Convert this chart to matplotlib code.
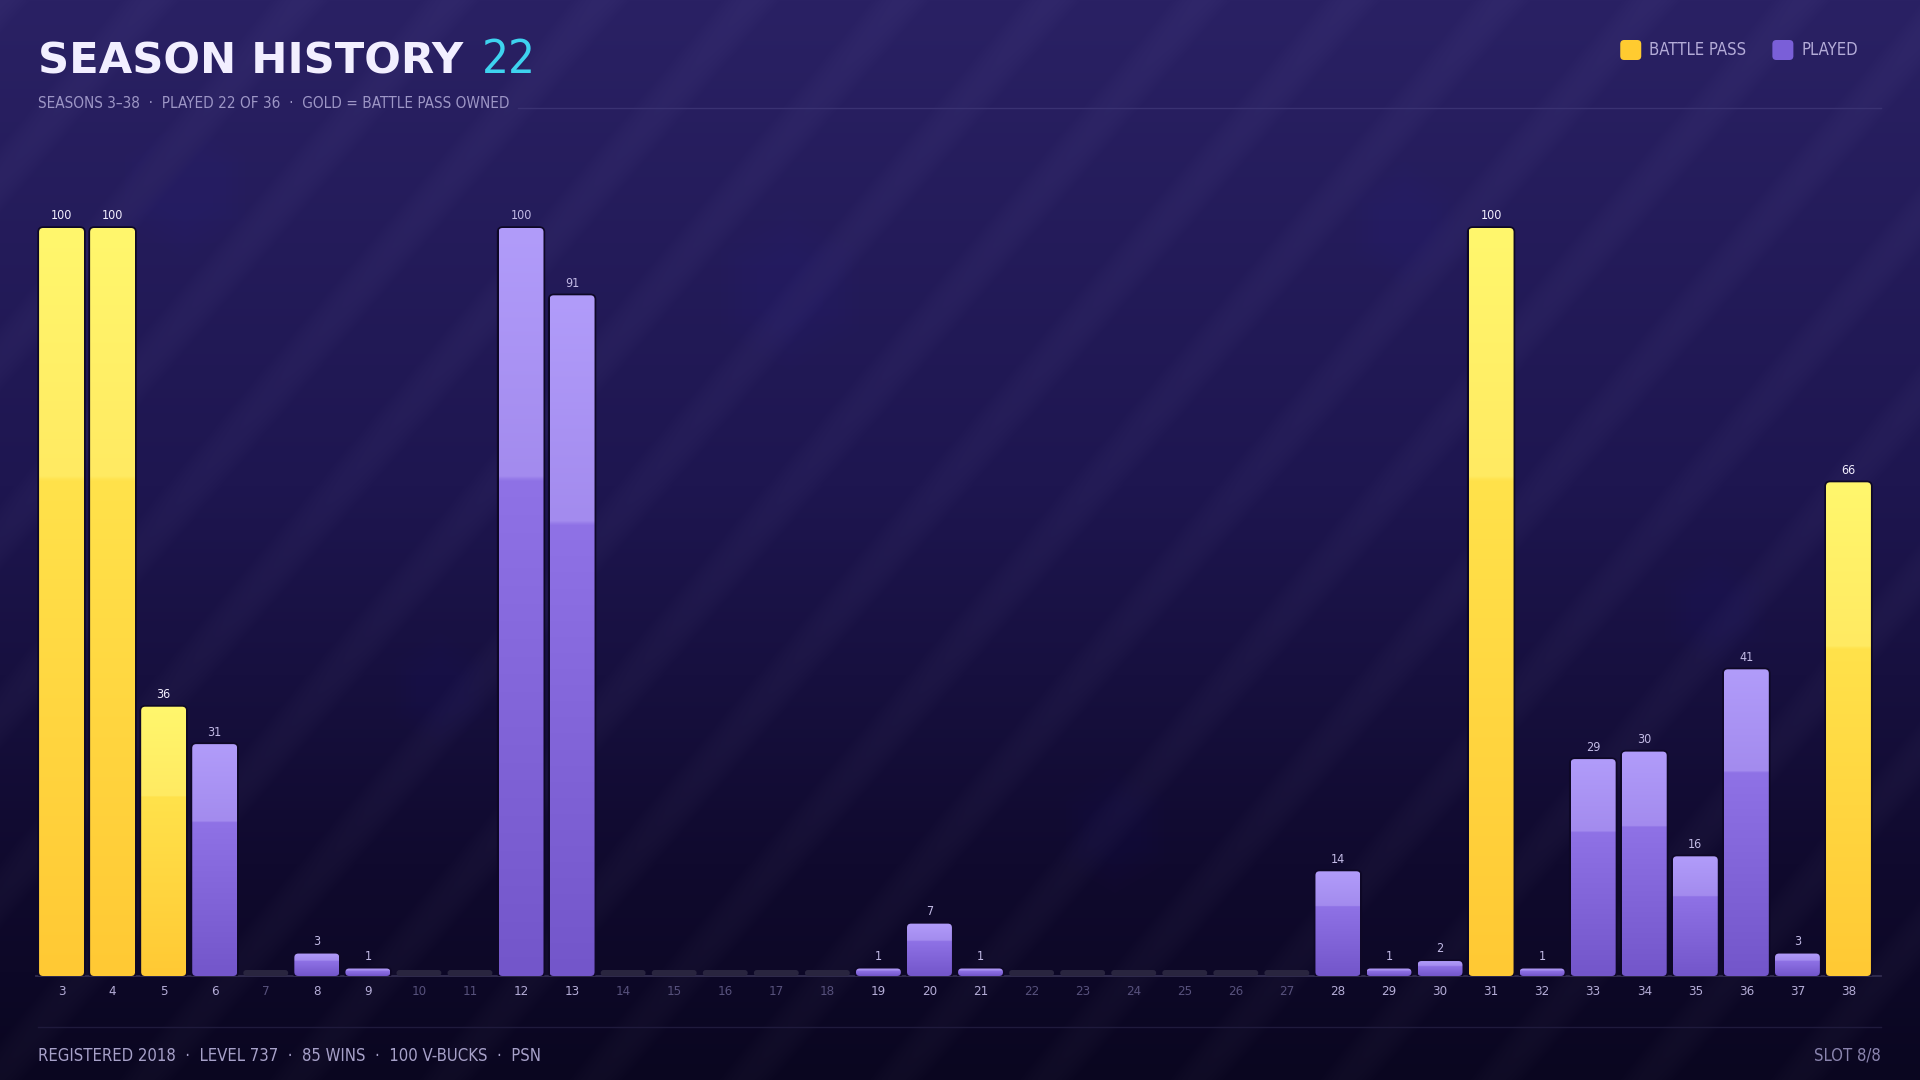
import numpy as np
import matplotlib
matplotlib.use('Agg')
import matplotlib.pyplot as plt
from matplotlib import font_manager as fm
from matplotlib.patches import FancyBboxPatch, RegularPolygon
from matplotlib.lines import Line2D
from matplotlib.colors import to_rgb

# season data
seasons = list(range(3, 39))
levels = [100, 100, 36, 31, 0, 3, 1, 0, 0, 100,
          91, 0, 0, 0, 0, 0, 1, 7, 1, 0,
          0, 0, 0, 0, 0, 14, 1, 2, 100, 1,
          29, 30, 16, 41, 3, 66]
battle_pass = [3, 4, 5, 31, 38]

title = 'SEASON HISTORY'
played_count = '22'
subtitle = 'SEASONS 3\u201338  \u00b7  PLAYED 22 OF 36  \u00b7  GOLD = BATTLE PASS OWNED'
footer_left = 'REGISTERED 2018  \u00b7  LEVEL 737  \u00b7  85 WINS  \u00b7  100 V-BUCKS  \u00b7  PSN'
footer_right = 'SLOT 8/8'
legend_labels = ['BATTLE PASS', 'PLAYED']

W, H = 1920, 1080


def wnum(f):
    return f.weight if isinstance(f.weight, int) else fm.weight_dict.get(f.weight, 400)


# narrow font for the small labels if one is installed
narrow = [f for f in fm.fontManager.ttflist
          if f.style == 'normal' and ('Narrow' in f.name or 'Condensed' in f.name
                                      or str(f.stretch) in ('condensed', 'semi-condensed'))]
narrow.sort(key=lambda f: abs(wnum(f) - 400))
if narrow:
    COND = dict(fontproperties=fm.FontProperties(fname=narrow[0].fname))
else:
    COND = dict(family='DejaVu Sans')

heavy = fm.FontProperties(family='DejaVu Sans', weight='bold')

GOLD = [(0.0, '#ffc934'), (0.664, '#ffe24b'), (0.668, '#ffea62'), (1.0, '#fff76d')]
PURPLE = [(0.0, '#7356ca'), (0.664, '#8f72e6'), (0.668, '#a38bee'), (1.0, '#b19cfa')]


def gradient(stops, n=300):
    t = np.linspace(0, 1, n)
    pos = [s[0] for s in stops]
    cols = np.array([to_rgb(s[1]) for s in stops])
    img = np.stack([np.interp(t, pos, cols[:, k]) for k in range(3)], axis=-1)
    return img[:, None, :]


fig = plt.figure(figsize=(19.2, 10.8), dpi=100)
renderer = fig.canvas.get_renderer()


def width(t):
    return t.get_window_extent(renderer=renderer).width


def fit(t, target, min_size=0):
    w = width(t)
    if w > target:
        t.set_fontsize(max(min_size, t.get_fontsize() * target / w))


# background: vertical gradient with diagonal stripes
bg = fig.add_axes([0, 0, 1, 1])
bg.set_xlim(0, W)
bg.set_ylim(H, 0)
bg.axis('off')
rows = np.arange(H)[:, None].astype(float)
cols = np.arange(W)[None, :].astype(float)
tpos = [0.0, 0.45, 0.8, 1.0]
tcol = np.array([to_rgb(c) for c in ['#2a2164', '#1e1650', '#100a2e', '#0a0620']])
t = rows / (H - 1)
base = np.stack([np.interp(t, tpos, tcol[:, k]) * np.ones((1, W)) for k in range(3)], axis=-1)
theta = np.deg2rad(50)
period = 115.0
phase = (cols * np.sin(theta) + rows * np.cos(theta)) / period
stripe = np.clip((np.cos(2 * np.pi * phase) - 0.35) / 0.65, 0, 1)
img = np.clip(base + 0.022 * stripe[..., None], 0, 1)
bg.imshow(img, extent=(0, W, H, 0), aspect='auto', zorder=0, interpolation='bilinear')

# faint, soft hexagon glows
for hx, hy, hr in [(185, 190, 60), (790, 290, 70), (1405, 225, 55), (1715, 610, 50),
                   (1115, 830, 55), (440, 690, 50)]:
    for k in np.linspace(0.55, 1.15, 6):
        bg.add_patch(RegularPolygon((hx, hy), 6, radius=hr * k, fc='#8f7fe0', ec='none',
                                    alpha=0.008, zorder=1))

# header
tt = bg.text(38, 73, title, fontproperties=heavy, color='#f2efff', va='baseline', ha='left')
tt.set_fontsize(33)
fit(tt, 426)
bg.text(482, 73, played_count, fontsize=34, color='#3ed3ef', va='baseline', ha='left', **COND)
st = bg.text(38, 108, subtitle, fontsize=13.5, color='#9d96c6', va='baseline', ha='left', **COND)
fit(st, 430, 11)
bg.add_line(Line2D([38 + width(st) + 8, 1881], [108, 108], color='#3a3272', lw=1))

# legend, laid out from the right edge
xr = 1858
for lab, col in zip(legend_labels[::-1], ['#7a5fd8', '#ffcb30']):
    lt = bg.text(xr, 50, lab, fontsize=12, color='#b4acd8', va='center', ha='right', **COND)
    sx = xr - width(lt) - 8 - 21
    bg.add_patch(FancyBboxPatch((sx, 40), 21, 20, boxstyle='round,pad=0,rounding_size=4',
                                fc=col, ec='none'))
    xr = sx - 26

# footer
bg.add_line(Line2D([38, 1881], [1027, 1027], color='#1f1a3c', lw=1))
ft = bg.text(38, 1061, footer_left, fontsize=14.5, color='#a7a1c9', va='baseline', ha='left', **COND)
fit(ft, 440, 12)
bg.text(1881, 1061, footer_right, fontsize=ft.get_fontsize(), color='#8a84ae',
        va='baseline', ha='right', **COND)

# chart
ax = fig.add_axes([36 / W, 104 / H, 1838 / W, 822.8 / H])
ax.set_xlim(2.5, 38.5)
ax.set_ylim(0, 110)
ax.axis('off')
ax.patch.set_alpha(0)

px_x = 1838 / 36.0
px_y = 822.8 / 110.0
ma = px_x / px_y
bw = 0.88

ax.plot([2.5, 38.64], [0, 0], color='#322d50', lw=1.3, clip_on=False, zorder=1)

for s, v in zip(seasons, levels):
    x0 = s - bw / 2
    if v == 0:
        h = 6 / px_y
        r = 3 / px_x
        ax.add_patch(FancyBboxPatch((x0, 0), bw, h, boxstyle=f'round,pad=0,rounding_size={r}',
                                    mutation_aspect=ma, fc='#29253f', ec='none', zorder=2))
        tc = '#57517c'
    else:
        gold = s in battle_pass
        rad = min(4.0, v * px_y / 2)
        r = rad / px_x
        p = FancyBboxPatch((x0, 0), bw, v, boxstyle=f'round,pad=0,rounding_size={r}',
                           mutation_aspect=ma, fc='none', ec='#0e0826', lw=2.5, zorder=2)
        ax.add_patch(p)
        im = ax.imshow(gradient(GOLD if gold else PURPLE), origin='lower',
                       extent=(x0, x0 + bw, 0, v), aspect='auto', zorder=3,
                       interpolation='bilinear')
        im.set_clip_path(p)
        ax.annotate(str(v), (s, v), xytext=(0, 4), textcoords='offset points',
                    ha='center', va='bottom', fontsize=9,
                    color='#f4f0ff' if gold else '#c3bbe6', **COND)
        tc = '#b4acd6'
    ax.annotate(str(s), (s, 0), xytext=(0, -11.5), textcoords='offset points',
                ha='center', va='center', fontsize=9.5, color=tc, **COND)

ax.set_xlim(2.5, 38.5)
ax.set_ylim(0, 110)

fig.savefig('out.png', dpi=100)
